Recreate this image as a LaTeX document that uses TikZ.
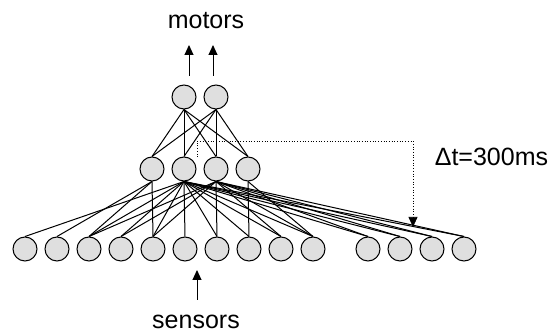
\documentclass[tikz,border=0pt]{standalone}
\usepackage{fontspec}
\setmainfont{Liberation Sans}
\usetikzlibrary{arrows.meta}

\begin{document}
\begin{tikzpicture}[x=1pt,y=-1pt,node distance=32pt,line width=1pt,
                    >={Triangle[width=9pt,length=10pt]}]
  \tikzstyle{neuron}=[circle,draw,fill=gray!25,minimum size=24pt,inner sep=0pt]
  \tikzstyle{lbl}=[font=\fontsize{25}{30}\selectfont]
  \useasboundingbox (0,0) rectangle (555,336);

  % sensor layer
  \node[neuron] (b1) at (25,249) {};
  \node[neuron] (b2) [right of=b1] {};
  \node[neuron] (b3) [right of=b2] {};
  \node[neuron] (b4) [right of=b3] {};
  \node[neuron] (b5) [right of=b4] {};
  \node[neuron] (b6) [right of=b5] {};
  \node[neuron] (b7) [right of=b6] {};
  \node[neuron] (b8) [right of=b7] {};
  \node[neuron] (b9) [right of=b8] {};
  \node[neuron] (b10) [right of=b9] {};
  \node[neuron] (b11) at (368,249) {};
  \node[neuron] (b12) [right of=b11] {};
  \node[neuron] (b13) [right of=b12] {};
  \node[neuron] (b14) [right of=b13] {};

  % hidden layer
  \node[neuron] (m1) at (152,169) {};
  \node[neuron] (m2) [right of=m1] {};
  \node[neuron] (m3) [right of=m2] {};
  \node[neuron] (m4) [right of=m3] {};

  % motor layer
  \node[neuron] (t1) at (184,97) {};
  \node[neuron] (t2) [right of=t1] {};

  \path (t1.south) edge (m1.north) edge (m2.north)
                   edge (m3.north) edge (m4.north)
        (t2.south) edge (m1.north) edge (m2.north)
                   edge (m3.north) edge (m4.north);

  \path (m1.south) edge (b2.north) edge (b3.north) edge (b5.north)
        (m2.south) edge (b1.north) edge (b3.north) edge (b4.north)
                   edge (b5.north) edge (b6.north) edge (b7.north)
                   edge (b8.north) edge (b9.north) edge (b10.north)
                   edge (b11.north) edge (b12.north) edge (b13.north)
                   edge (b14.north)
        (m3.south) edge (b3.north) edge (b4.north) edge (b5.north)
                   edge (b7.north) edge (b9.north) edge (b10.north)
                   edge (b11.north) edge (b12.north) edge (b13.north)
                   edge (b14.north)
        (m4.south) edge (b8.north) edge (b10.north);

  % labels and arrows
  \node[lbl,anchor=base] (motors) at (206,29) {motors};
  \node[lbl,anchor=base] (sensors) at (196,329) {sensors};
  \node[lbl,anchor=base west] (delay) at (431,166) {Δt=300ms};

  \coordinate (mo1s) at (189,76);
  \coordinate (mo1e) at (189,45);
  \coordinate (mo2s) at (213,76);
  \coordinate (mo2e) at (213,45);
  \coordinate (sens) at (197,300);
  \coordinate (sene) at (197,270);
  \draw[->] (mo1s) -- (mo1e);
  \draw[->] (mo2s) -- (mo2e);
  \draw[->] (sens) -- (sene);

  \coordinate (dts) at (197,157);
  \coordinate (dta) at (197,141);
  \coordinate (dtb) at (413,141);
  \coordinate (dte) at (413,227);
  \draw[dotted,line width=0.7pt,->] (dts) -- (dta) -- (dtb) -- (dte);
\end{tikzpicture}
\end{document}
